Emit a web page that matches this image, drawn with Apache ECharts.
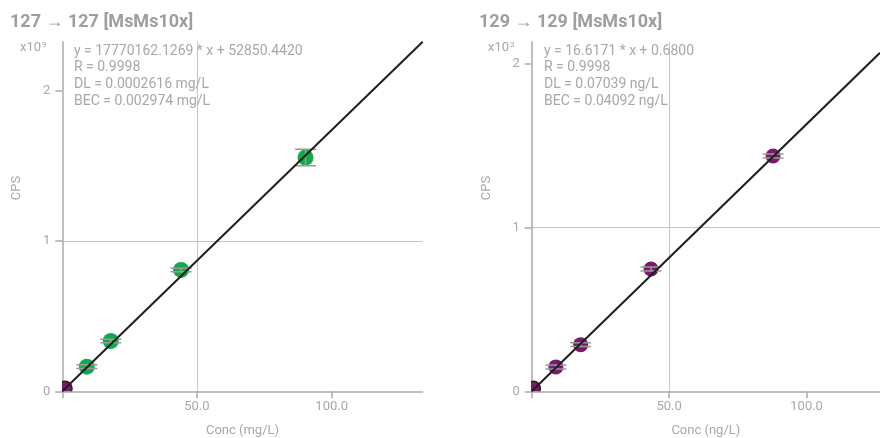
<!DOCTYPE html>
<html><head><meta charset="utf-8">
<script src="https://cdn.jsdelivr.net/npm/echarts@6/dist/echarts.min.js"></script>
<style>html,body{margin:0;padding:0;background:#fff}#c{width:880px;height:438px}</style>
</head><body><div id="c"></div>
<script>
// ---- data (CPS values in units of the axis multiplier) ----
const leftTitle = '127 \u2192 127 [MsMs10x]';
const rightTitle = '129 \u2192 129 [MsMs10x]';
const leftX = [9.1, 18.0, 44.1, 90.3];
const leftY = [0.164, 0.335, 0.808, 1.557];
const leftErr = [0.012, 0.012, 0.012, 0.055];
const leftBlank = [1.0, 0.02];
const leftLineX = [0, 133.8];
const leftLineY = [0, 2.328];
const rightX = [8.8, 17.8, 43.4, 87.8];
const rightY = [0.149, 0.285, 0.747, 1.438];
const rightErr = [0.012, 0.012, 0.012, 0.012];
const rightBlank = [0.6, 0.018];
const rightLineX = [0, 126.7];
const rightLineY = [0, 2.068];
const xTicks = [0, 50, 100];
const yTicks = [0, 1, 2];
const leftNotes = ['y = 17770162.1269 * x + 52850.4420', 'R = 0.9998', 'DL = 0.0002616 mg/L', 'BEC = 0.002974 mg/L'];
const rightNotes = ['y = 16.6171 * x + 0.6800', 'R = 0.9998', 'DL = 0.07039 ng/L', 'BEC = 0.04092 ng/L'];
const leftXName = 'Conc (mg/L)';
const rightXName = 'Conc (ng/L)';
const yName = 'CPS';
const leftExp = '9', rightExp = '3';

const FONT = 'Roboto';
const GREEN = '#14a84e', PURPLE = '#7a1a6c';

function xAxis(idx, max, name) {
  return {
    type: 'value', gridIndex: idx, min: 0, max: max, interval: 50,
    name: name, nameLocation: 'middle', nameGap: 33,
    nameTextStyle: {color: '#a8a8a8', fontSize: 13, fontFamily: FONT},
    axisLine: {show: true, lineStyle: {color: '#aaa', width: 1.5}},
    axisTick: {show: true, length: 7, customValues: xTicks, lineStyle: {color: '#aaa', width: 1.5}},
    axisLabel: {customValues: xTicks, margin: 9, color: '#a8a8a8', fontSize: 13, fontFamily: FONT,
      formatter: v => v === 0 ? '' : v.toFixed(1)},
    splitLine: {show: true, showMinLine: false, showMaxLine: false, lineStyle: {color: '#c4c4c4', width: 1}}
  };
}
function yAxis(idx, max) {
  return {
    type: 'value', gridIndex: idx, min: 0, max: max, interval: 1,
    axisLine: {show: true, lineStyle: {color: '#aaa', width: 1.5}},
    axisTick: {show: true, length: 7, customValues: yTicks, lineStyle: {color: '#aaa', width: 1.5}},
    axisLabel: {customValues: yTicks, margin: 12, color: '#a8a8a8', fontSize: 13, fontFamily: FONT,
      verticalAlign: 'middle', padding: [0, 0, 8, 0], formatter: v => String(v)},
    splitLine: {show: true, showMinLine: false, showMaxLine: false, lineStyle: {color: '#c4c4c4', width: 1}}
  };
}
function errSeries(idx, xs, ys, es) {
  return {
    type: 'custom', xAxisIndex: idx, yAxisIndex: idx, z: 4, clip: true,
    data: xs.map((x, i) => [x, ys[i], es[i]]),
    renderItem: (params, api) => {
      const x = api.value(0), y = api.value(1), e = api.value(2);
      const t = api.coord([x, y + e]), b = api.coord([x, y - e]);
      const hw = 10.5, st = {stroke: '#9a9a9a', lineWidth: 1.5};
      return {type: 'group', children: [
        {type: 'line', shape: {x1: t[0], y1: t[1], x2: b[0], y2: b[1]}, style: st},
        {type: 'line', shape: {x1: t[0] - hw, y1: t[1], x2: t[0] + hw, y2: t[1]}, style: st},
        {type: 'line', shape: {x1: b[0] - hw, y1: b[1], x2: b[0] + hw, y2: b[1]}, style: st}
      ]};
    }
  };
}
function pts(idx, xs, ys, color, size) {
  return {type: 'scatter', xAxisIndex: idx, yAxisIndex: idx, z: 3, symbolSize: size,
    itemStyle: {color: color, opacity: 1}, data: xs.map((x, i) => [x, ys[i]])};
}
function blank(idx, p) {
  return {type: 'custom', xAxisIndex: idx, yAxisIndex: idx, z: 3, clip: true, data: [p],
    renderItem: (params, api) => {
      const c = api.coord([api.value(0), api.value(1)]);
      return {type: 'circle', shape: {cx: c[0], cy: c[1], r: 7},
        style: {fill: PURPLE, stroke: '#222', lineWidth: 1.5}};
    }};
}
function fit(idx, xs, ys) {
  return {type: 'line', xAxisIndex: idx, yAxisIndex: idx, z: 5, clip: true, symbol: 'none',
    lineStyle: {color: '#1e1e1e', width: 2}, data: xs.map((x, i) => [x, ys[i]])};
}
function notes(x, arr) {
  return {type: 'text', left: x, top: 43, z: 10, silent: true,
    style: {text: arr.join('\n'), fill: '#a8a8a8', font: '14px ' + FONT, lineHeight: 16.6}};
}
function mult(x, e) {
  return {type: 'text', left: x, top: 41, z: 10,
    style: {text: '{a|x10}{b|' + e + '}', rich: {
      a: {fill: '#a8a8a8', fontSize: 13, fontFamily: FONT},
      b: {fill: '#a8a8a8', fontSize: 8, fontFamily: FONT, verticalAlign: 'top', padding: [0, 0, 6, 1]}}}};
}
function cps(x) {
  return {type: 'text', x: x, y: 188, rotation: Math.PI / 2, z: 10,
    style: {text: yName, fill: '#a8a8a8', font: '13px ' + FONT, align: 'center', verticalAlign: 'middle'}};
}

const chart = echarts.init(document.getElementById('c'));
chart.setOption({
  animation: false,
  title: [
    {text: leftTitle, left: 5, top: 8, textStyle: {color: '#9e9e9e', fontSize: 18, fontWeight: 'bold', fontFamily: FONT}},
    {text: rightTitle, left: 474, top: 8, textStyle: {color: '#9e9e9e', fontSize: 18, fontWeight: 'bold', fontFamily: FONT}}
  ],
  grid: [
    {left: 62.3, top: 41.7, width: 360.4, height: 349.6, outerBoundsMode: 'none', containLabel: false},
    {left: 531.7, top: 41.7, width: 348.3, height: 349.6, outerBoundsMode: 'none', containLabel: false}
  ],
  xAxis: [xAxis(0, 133.8, leftXName), xAxis(1, 126.7, rightXName)],
  yAxis: [yAxis(0, 2.328), yAxis(1, 2.136)],
  series: [
    pts(0, leftX, leftY, GREEN, 16), blank(0, leftBlank), errSeries(0, leftX, leftY, leftErr), fit(0, leftLineX, leftLineY),
    pts(1, rightX, rightY, PURPLE, 15), blank(1, rightBlank), errSeries(1, rightX, rightY, rightErr), fit(1, rightLineX, rightLineY)
  ],
  graphic: [notes(74, leftNotes), notes(544, rightNotes), mult(20, leftExp), mult(488, rightExp), cps(17), cps(487)]
});
</script></body></html>
